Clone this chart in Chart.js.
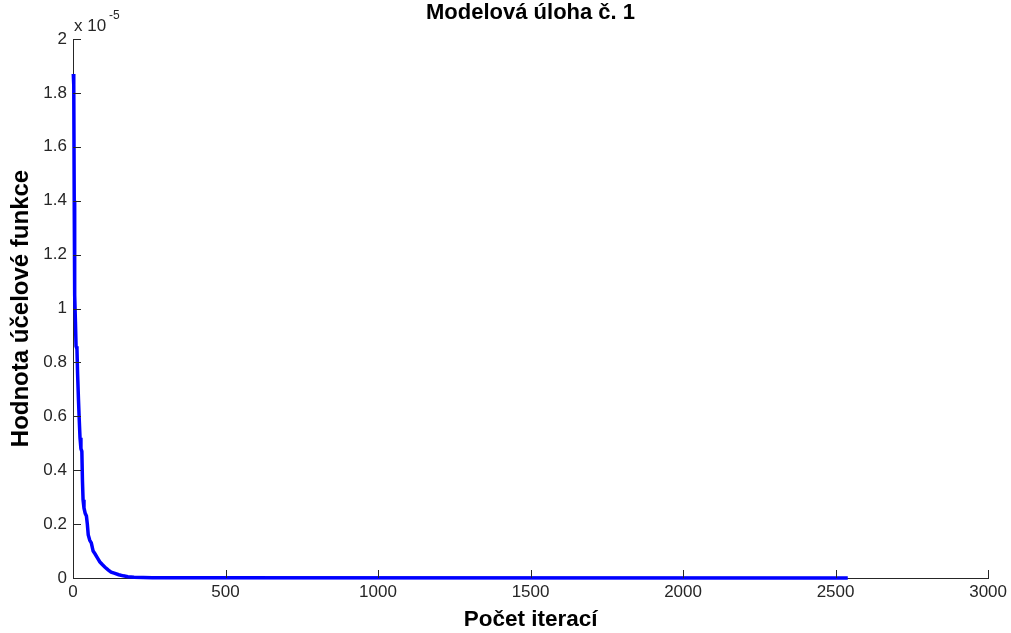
<!DOCTYPE html>
<html>
<head>
<meta charset="utf-8">
<title>Modelová úloha č. 1</title>
<script src="https://cdn.jsdelivr.net/npm/chart.js@4"></script>
<style>
  html, body { margin: 0; padding: 0; background: #ffffff; }
  #wrap { width: 1011px; height: 633px; position: relative; }
</style>
</head>
<body>
<div id="wrap"><canvas id="chart" width="1011" height="633"></canvas></div>
<script>
// Objective value per iteration (values in units of 1e-5)
const iterations = [1, 2, 3, 4, 5, 6, 8, 10, 13, 15, 18, 20, 23, 26, 29, 31, 33, 36, 40, 44, 47, 50, 55, 60, 66, 72, 80, 88, 96, 105, 115, 125, 135, 150, 165, 180, 200, 230, 260, 300, 2540];
const objective  = [1.87, 1.85, 1.83, 1.40, 1.20, 1.05, 0.95, 0.86, 0.85, 0.76, 0.66, 0.60, 0.52, 0.48, 0.47, 0.36, 0.29, 0.26, 0.24, 0.23, 0.20, 0.16, 0.14, 0.13, 0.10, 0.090, 0.075, 0.060, 0.050, 0.040, 0.030, 0.022, 0.018, 0.012, 0.008, 0.005, 0.003, 0.002, 0.001, 0.0005, 0.0001];

const xTicks = [0, 500, 1000, 1500, 2000, 2500, 3000];
const yTicks = [0, 0.2, 0.4, 0.6, 0.8, 1, 1.2, 1.4, 1.6, 1.8, 2];

const titleText = 'Modelová úloha č. 1';
const xTitle = 'Počet iterací';
const yTitle = 'Hodnota účelové funkce';

const FONT = "'Liberation Sans', Arial, Helvetica, sans-serif";
const AXIS_COLOR = '#262626';

// Inward tick marks on the left and bottom axes, plus titles and exponent note
const decorations = {
  id: 'decorations',
  afterDraw(chart) {
    const { ctx, chartArea: ca, scales } = chart;
    const xs = scales.x, ys = scales.y;
    ctx.save();
    ctx.strokeStyle = AXIS_COLOR;
    ctx.lineWidth = 1;
    ctx.beginPath();
    xTicks.forEach(v => {
      const px = Math.round(xs.getPixelForValue(v)) + 0.5;
      ctx.moveTo(px, ca.bottom);
      ctx.lineTo(px, ca.bottom - 8);
    });
    yTicks.forEach(v => {
      const py = Math.round(ys.getPixelForValue(v)) + 0.5;
      ctx.moveTo(ca.left, py);
      ctx.lineTo(ca.left + 8, py);
    });
    ctx.stroke();

    ctx.fillStyle = '#000000';
    ctx.textAlign = 'center';
    ctx.textBaseline = 'middle';
    ctx.font = 'bold 22px ' + FONT;
    ctx.fillText(titleText, (ca.left + ca.right) / 2, 13);

    ctx.font = 'bold 22.5px ' + FONT;
    ctx.fillText(xTitle, (ca.left + ca.right) / 2, 620);

    ctx.save();
    ctx.translate(21, (ca.top + ca.bottom) / 2);
    ctx.rotate(-Math.PI / 2);
    ctx.font = 'bold 24px ' + FONT;
    ctx.fillText(yTitle, 0, 0);
    ctx.restore();

    ctx.fillStyle = '#262626';
    ctx.textAlign = 'left';
    ctx.textBaseline = 'alphabetic';
    ctx.font = '17px ' + FONT;
    ctx.fillText('x 10', ca.left + 1, 31);
    ctx.font = '12px ' + FONT;
    ctx.fillText('-5', ca.left + 36, 19);
    ctx.restore();
  }
};

new Chart(document.getElementById('chart'), {
  type: 'line',
  data: {
    datasets: [{
      data: iterations.map((it, i) => ({ x: it, y: objective[i] })),
      borderColor: '#0000ff',
      borderWidth: 3.5,
      pointRadius: 0,
      tension: 0,
      fill: false,
      clip: false
    }]
  },
  options: {
    responsive: false,
    animation: false,
    devicePixelRatio: 1,
    layout: { padding: { top: 39, right: 21, left: 0, bottom: 0 } },
    plugins: {
      legend: { display: false },
      tooltip: { enabled: false },
      title: { display: false }
    },
    scales: {
      x: {
        type: 'linear',
        min: 0,
        max: 3000,
        afterBuildTicks: s => { s.ticks = xTicks.map(v => ({ value: v })); },
        afterFit: s => { s.height = 55; },
        grid: { display: true, drawOnChartArea: false, drawTicks: false },
        border: { display: true, color: AXIS_COLOR, width: 1 },
        ticks: {
          color: '#262626',
          font: { family: FONT, size: 17 },
          padding: 4,
          maxRotation: 0,
          callback: v => String(v)
        }
      },
      y: {
        type: 'linear',
        min: 0,
        max: 2,
        afterBuildTicks: s => { s.ticks = yTicks.map(v => ({ value: v })); },
        afterFit: s => { s.width = 73; },
        grid: { display: true, drawOnChartArea: false, drawTicks: false },
        border: { display: true, color: AXIS_COLOR, width: 1 },
        ticks: {
          color: '#262626',
          font: { family: FONT, size: 17 },
          padding: 6,
          callback: v => String(+Number(v).toFixed(1))
        }
      }
    }
  },
  plugins: [decorations]
});
</script>
</body>
</html>
